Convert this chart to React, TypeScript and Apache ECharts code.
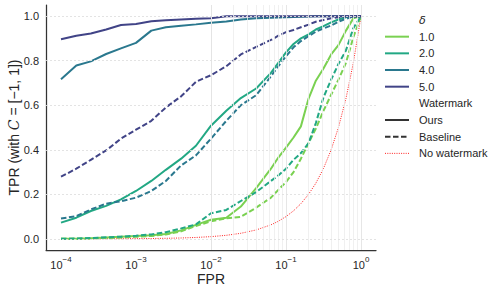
import React, { useEffect, useRef } from 'react';
import * as echarts from 'echarts';

// FPR sample grid (shared by every curve)
const fpr = [0.0001, 0.00016, 0.00025, 0.0004, 0.00063, 0.001, 0.0016, 0.0025, 0.004, 0.0063, 0.01, 0.016, 0.025, 0.04, 0.063, 0.079, 0.1, 0.126, 0.158, 0.2, 0.25, 0.316, 0.4, 0.5, 0.63, 0.79, 1.0];

// TPR, watermark "Ours"
const ours1 = [0.0, 0.001, 0.003, 0.006, 0.01, 0.013, 0.016, 0.022, 0.038, 0.063, 0.086, 0.095, 0.145, 0.228, 0.315, 0.365, 0.41, 0.455, 0.505, 0.63, 0.71, 0.765, 0.828, 0.87, 0.935, 0.99, 1.0];
const ours2 = [0.073, 0.095, 0.125, 0.148, 0.177, 0.215, 0.26, 0.31, 0.36, 0.418, 0.508, 0.575, 0.632, 0.675, 0.745, 0.79, 0.837, 0.875, 0.9, 0.918, 0.94, 0.955, 0.972, 0.985, 0.995, 1.0, 1.0];
const ours4 = [0.717, 0.778, 0.797, 0.83, 0.855, 0.88, 0.935, 0.95, 0.957, 0.963, 0.97, 0.976, 0.985, 0.99, 0.993, 0.994, 0.995, 0.996, 0.997, 0.998, 0.999, 1.0, 1.0, 1.0, 1.0, 1.0, 1.0];
const ours5 = [0.896, 0.912, 0.922, 0.94, 0.96, 0.965, 0.977, 0.982, 0.985, 0.988, 0.99, 1.0, 1.0, 1.0, 1.0, 1.0, 1.0, 1.0, 1.0, 1.0, 1.0, 1.0, 1.0, 1.0, 1.0, 1.0, 1.0];

// TPR, watermark "Baseline"
const base1 = [0.0, 0.0, 0.002, 0.004, 0.006, 0.009, 0.013, 0.02, 0.034, 0.058, 0.079, 0.092, 0.099, 0.14, 0.185, 0.22, 0.255, 0.3, 0.36, 0.43, 0.495, 0.575, 0.647, 0.715, 0.79, 0.905, 1.0];
const base2 = [0.0, 0.002, 0.004, 0.007, 0.01, 0.014, 0.02, 0.03, 0.047, 0.065, 0.115, 0.13, 0.17, 0.21, 0.26, 0.285, 0.315, 0.355, 0.385, 0.43, 0.52, 0.635, 0.715, 0.785, 0.846, 0.946, 1.0];
const base4 = [0.091, 0.102, 0.132, 0.158, 0.169, 0.185, 0.215, 0.26, 0.33, 0.375, 0.45, 0.53, 0.6, 0.645, 0.73, 0.775, 0.82, 0.86, 0.888, 0.91, 0.93, 0.945, 0.958, 0.975, 0.988, 0.998, 1.0];
const base5 = [0.279, 0.315, 0.355, 0.397, 0.45, 0.49, 0.53, 0.59, 0.64, 0.705, 0.735, 0.775, 0.828, 0.862, 0.893, 0.912, 0.928, 0.938, 0.95, 0.962, 0.975, 0.983, 0.99, 0.995, 0.999, 1.0, 1.0];

// No watermark: chance line
const noWatermark = [0.0001, 0.00016, 0.00025, 0.0004, 0.00063, 0.001, 0.0016, 0.0025, 0.004, 0.0063, 0.01, 0.016, 0.025, 0.04, 0.063, 0.079, 0.1, 0.126, 0.158, 0.2, 0.25, 0.316, 0.4, 0.5, 0.63, 0.79, 1.0];

const deltaLabels = ['1.0', '2.0', '4.0', '5.0'];
const deltaColors = ['#7ad151', '#22a884', '#2a788e', '#414487'];
const oursSeries = [ours1, ours2, ours4, ours5];
const baseSeries = [base1, base2, base4, base5];

const yTicks = [0, 0.2, 0.4, 0.6, 0.8, 1.0];
const xDecades = [-4, -3, -2, -1, 0]; // log10 exponents of the major x ticks

const TEXT = '#262626';
const FONT = 'Liberation Sans, Arial, Helvetica, sans-serif';
const DASH = [5.5, 2.5];

export default function App() {
  const ref = useRef<HTMLDivElement>(null);

  useEffect(() => {
    if (!ref.current) return;
    const chart = echarts.init(ref.current, undefined, { renderer: 'svg' });

    const pairs = (ys: number[]) => fpr.map((x, i) => [x, ys[i]]);

    // vertical grid positions (log minor + major)
    const vMinor: number[] = [7e-5, 8e-5, 9e-5];
    for (let k = -4; k <= -1; k++) {
      for (let m = 2; m <= 9; m++) vMinor.push(m * Math.pow(10, k));
    }

    const gridLines: any[] = [
      ...vMinor.map((v) => ({ xAxis: v, lineStyle: { color: '#ececec', width: 0.8, type: 'solid' } })),
      ...xDecades.map((e) => ({ xAxis: Math.pow(10, e), lineStyle: { color: '#e3e3e3', width: 0.9, type: 'solid' } })),
      ...yTicks.map((v) => ({ yAxis: v, lineStyle: { color: '#e0e0e0', width: 0.9, type: [2, 2] } })),
    ];

    const series: any[] = [
      {
        type: 'line',
        data: [],
        z: 1,
        silent: true,
        markLine: {
          silent: true,
          symbol: ['none', 'none'],
          label: { show: false },
          emphasis: { disabled: true },
          data: gridLines,
        },
      },
      {
        name: 'No watermark',
        type: 'line',
        data: pairs(noWatermark),
        showSymbol: false,
        z: 3,
        lineStyle: { color: '#ff2020', width: 1, type: [1, 1.3] },
      },
    ];
    deltaLabels.forEach((lab, i) => {
      series.push({
        name: `Ours ${lab}`,
        type: 'line',
        data: pairs(oursSeries[i]),
        showSymbol: false,
        z: 4,
        lineStyle: { color: deltaColors[i], width: 2 },
      });
      series.push({
        name: `Baseline ${lab}`,
        type: 'line',
        data: pairs(baseSeries[i]),
        showSymbol: false,
        z: 4,
        lineStyle: { color: deltaColors[i], width: 2, type: DASH },
      });
    });

    // legend drawn as graphics
    const lx1 = 385, lx2 = 409, tx = 419, y0 = 20, dy = 16.67;
    const graphics: any[] = [];
    const addText = (row: number, text: string, italic = false) => {
      graphics.push({
        type: 'text',
        x: tx,
        y: y0 + row * dy,
        style: {
          text,
          fontSize: 11,
          fontFamily: italic ? 'DejaVu Sans' : FONT,
          fontStyle: italic ? 'italic' : 'normal',
          fill: TEXT,
          verticalAlign: 'middle',
          align: 'left',
        },
      });
    };
    const addLine = (row: number, stroke: string, width: number, dash?: number[]) => {
      graphics.push({
        type: 'line',
        shape: { x1: lx1, y1: y0 + row * dy, x2: lx2, y2: y0 + row * dy },
        style: { stroke, lineWidth: width, lineDash: dash || null },
      });
    };
    addText(0, 'δ', true);
    deltaLabels.forEach((lab, i) => {
      addLine(i + 1, deltaColors[i], 2);
      addText(i + 1, lab);
    });
    addText(5, 'Watermark');
    addLine(6, '#333333', 2);
    addText(6, 'Ours');
    addLine(7, '#333333', 2, DASH);
    addText(7, 'Baseline');
    addLine(8, '#ff2020', 1, [1, 1.3]);
    addText(8, 'No watermark');

    chart.setOption({
      animation: false,
      backgroundColor: '#ffffff',
      textStyle: { fontFamily: FONT },
      grid: { left: 46, top: 5, width: 330, height: 245, containLabel: false, outerBoundsMode: 'none' },
      xAxis: {
        type: 'log',
        logBase: 10,
        min: Math.pow(10, -4.2),
        max: Math.pow(10, 0.2),
        axisLine: { show: true, onZero: false, lineStyle: { color: '#333333', width: 1.25 } },
        axisTick: { show: false },
        splitLine: { show: false },
        axisLabel: {
          margin: 5,
          showMinLabel: false,
          showMaxLabel: false,
          formatter: (v: number) => {
            const e = Math.log10(v);
            const r = Math.round(e);
            if (Math.abs(e - r) > 1e-6) return '';
            return `{b|10}{e|${r < 0 ? '−' : ''}${Math.abs(r)}}`;
          },
          rich: {
            b: { fontSize: 11, lineHeight: 15, color: TEXT, fontFamily: FONT, verticalAlign: 'bottom' },
            e: { fontSize: 8, lineHeight: 10, color: TEXT, fontFamily: FONT, verticalAlign: 'top' },
          },
        },
        name: 'FPR',
        nameLocation: 'middle',
        nameGap: 22,
        nameMoveOverlap: false,
        nameTextStyle: { fontSize: 14, color: TEXT, fontFamily: FONT },
      },
      yAxis: {
        type: 'value',
        min: -0.05,
        max: 1.05,
        splitNumber: 5,
        axisLine: { show: true, onZero: false, lineStyle: { color: '#333333', width: 1.25 } },
        axisTick: { show: false },
        splitLine: { show: false },
        axisLabel: {
          margin: 7,
          fontSize: 11,
          color: TEXT,
          fontFamily: FONT,
          showMinLabel: false,
          showMaxLabel: false,
          formatter: (v: number) => {
            const k = v * 5;
            if (Math.abs(k - Math.round(k)) > 1e-6) return '';
            return v.toFixed(1);
          },
        },
        name: '{a|TPR (with }{c|C}{a| = [−1, 1])}',
        nameLocation: 'middle',
        nameGap: 25,
        nameRotate: 90,
        nameMoveOverlap: false,
        nameTextStyle: {
          color: TEXT,
          rich: {
            a: { fontSize: 14, color: TEXT, fontFamily: FONT },
            c: { fontSize: 14, color: TEXT, fontFamily: 'DejaVu Serif', fontStyle: 'italic' },
          },
        },
      },
      series,
      graphic: graphics,
    });

    return () => chart.dispose();
  }, []);

  return (
    <div
      ref={ref}
      style={{ position: 'absolute', left: 0, top: 0, width: 502, height: 294 }}
    />
  );
}
